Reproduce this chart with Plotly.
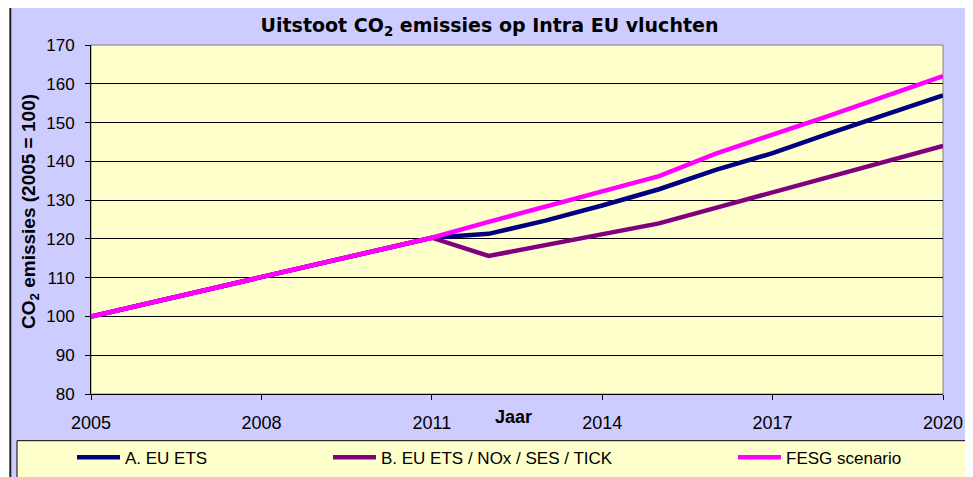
import plotly.graph_objects as go

# ---- data ----
years = [2005, 2006, 2007, 2008, 2009, 2010, 2011, 2012, 2013, 2014, 2015, 2016, 2017, 2018, 2019, 2020]
eu_ets = [100, 103.4, 106.8, 110.1, 113.5, 116.9, 120.3, 121.3, 124.7, 128.6, 132.8, 137.8, 142.1, 147.2, 152.0, 157.0]
eu_ets_nox = [100, 103.4, 106.8, 110.1, 113.5, 116.9, 120.3, 115.6, 118.4, 121.2, 124.0, 128.0, 132.0, 136.0, 140.0, 144.0]
fesg = [100, 103.4, 106.8, 110.1, 113.5, 116.9, 120.3, 124.4, 128.3, 132.2, 136.2, 142.0, 146.8, 151.8, 156.9, 162.0]
series_names = ["A. EU ETS", "B. EU ETS / NOx / SES / TICK", "FESG scenario"]
x_tick_vals = [2005, 2008, 2011, 2014, 2017, 2020]
x_tick_text = ["2005", "2008", "2011", "2014", "2017", "2020"]
y_tick_vals = [80, 90, 100, 110, 120, 130, 140, 150, 160, 170]

# page has an 8px body margin; size the figure so it fits the 973x477 window
OFF = 8
W, H = 973 - OFF, 477 - OFF
L, R, T, B = 91 - OFF, 30, 45 - OFF, 83
PW, PH = W - L - R, H - T - B


def px_x(p):  # page pixel -> paper x
    return (p - OFF - L) / PW


def px_y(p):  # page pixel -> paper y
    return (H - B - (p - OFF)) / PH


FONT = "Liberation Sans, Arial, sans-serif"
TITLE_FONT = "DejaVu Sans, Verdana, sans-serif"
colors = ["#000080", "#800080", "#FF00FF"]
values = [eu_ets, eu_ets_nox, fesg]
legends = ["legend", "legend2", "legend3"]

fig = go.Figure()
for name, vals, col, lg in zip(series_names, values, colors, legends):
    fig.add_trace(go.Scatter(x=years, y=vals, mode="lines", name=name,
                             line=dict(color=col, width=4.5), legend=lg))

leg_common = dict(orientation="h", yanchor="middle", xanchor="left",
                  bgcolor="rgba(0,0,0,0)", borderwidth=0, itemwidth=43,
                  font=dict(family=FONT, size=17, color="#000"))

shapes = [
    # chart area
    dict(type="rect", xref="paper", yref="paper", layer="below",
         x0=px_x(10.3), x1=px_x(971), y0=px_y(6.8), y1=px_y(495),
         fillcolor="#CCCCFF", line=dict(color="#222222", width=2)),
    # plot area
    dict(type="rect", xref="paper", yref="paper", layer="below",
         x0=0, x1=1, y0=0, y1=1,
         fillcolor="#FFFFCC", line=dict(color="#808080", width=1)),
    # legend box
    dict(type="rect", xref="paper", yref="paper", layer="below",
         x0=px_x(17), x1=px_x(968), y0=px_y(440.7), y1=px_y(495),
         fillcolor="#FFFFCC", line=dict(color="#000000", width=1)),
]

annotations = [
    dict(text="<b>CO<sub>2</sub> emissies (2005 = 100)</b>", xref="paper", yref="paper",
         x=px_x(30), y=px_y(212), textangle=-90, showarrow=False,
         xanchor="center", yanchor="middle",
         font=dict(family=FONT, size=19, color="#000")),
    dict(text="<b>Jaar</b>", xref="paper", yref="paper",
         x=px_x(513.7), y=px_y(416.7), showarrow=False,
         xanchor="center", yanchor="middle",
         font=dict(family=FONT, size=18, color="#000")),
]

fig.update_layout(
    width=W, height=H,
    margin=dict(l=L, r=R, t=T, b=B, autoexpand=False),
    paper_bgcolor="#FFFFFF",
    plot_bgcolor="rgba(0,0,0,0)",
    title=dict(text="<b>Uitstoot CO<sub>2</sub> emissies op Intra EU vluchten</b>",
               xref="container", yref="container",
               x=(489.5 - OFF) / W, y=1 - (25 - OFF) / H,
               xanchor="center", yanchor="middle",
               font=dict(family=TITLE_FONT, size=19, color="#000")),
    xaxis=dict(range=[2005, 2020], tickvals=x_tick_vals, ticktext=x_tick_text,
               showgrid=False, zeroline=False, showline=True, linecolor="#000", linewidth=1,
               ticks="outside", ticklen=5, tickcolor="#000", ticklabelstandoff=7,
               tickfont=dict(family=FONT, size=18, color="#000")),
    yaxis=dict(range=[80, 170], tickvals=y_tick_vals,
               showgrid=True, gridcolor="#000", gridwidth=1, zeroline=False,
               showline=True, linecolor="#000", linewidth=1,
               ticks="outside", ticklen=5, tickcolor="#000", ticklabelstandoff=7,
               tickfont=dict(family=FONT, size=17, color="#000")),
    legend=dict(x=px_x(72), y=px_y(457.7), **leg_common),
    legend2=dict(x=px_x(328), y=px_y(457.7), **leg_common),
    legend3=dict(x=px_x(733), y=px_y(457.7), **leg_common),
    shapes=shapes,
    annotations=annotations,
    showlegend=True,
)

fig.write_html("out.html")
